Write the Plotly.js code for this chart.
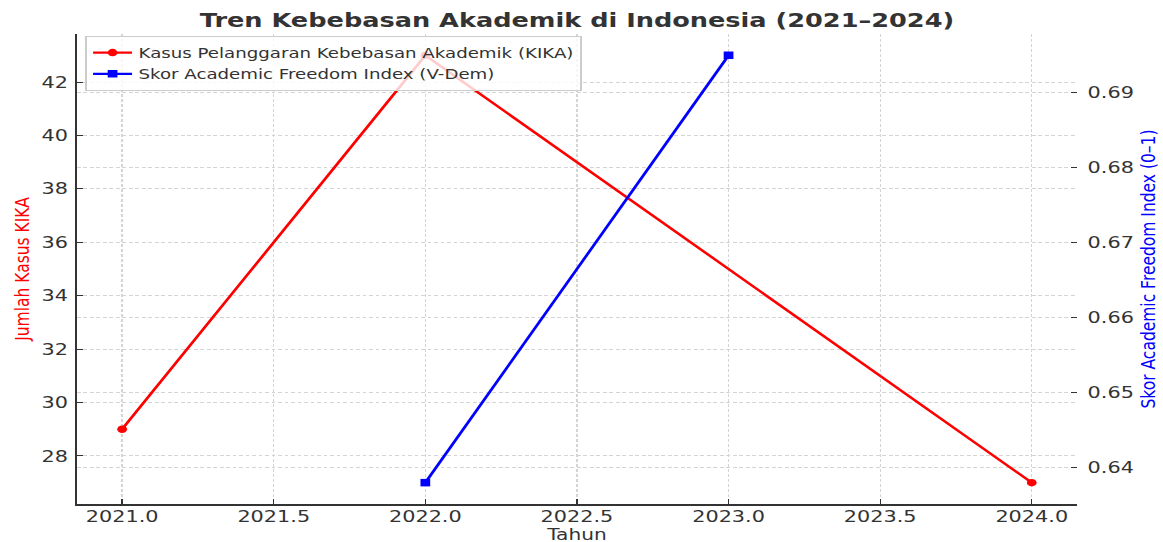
<!DOCTYPE html>
<html>
<head>
<meta charset="utf-8">
<script src="https://cdn.plot.ly/plotly-3.0.1.min.js"></script>
<style>
  html, body { margin: 0; padding: 0; background: #ffffff; overflow: hidden; }
  #wrap { width: 1163px; height: 542px; overflow: hidden; }
  #chart { width: 895px; height: 548px; transform: scaleX(1.29944); transform-origin: 0 0; }
</style>
</head>
<body>
<div id="wrap"><div id="chart"></div></div>
<script>
// Data
const yearsKIKA = [2021, 2022, 2024];
const kasusKIKA = [29, 43, 27];
const yearsAFI = [2022, 2023];
const skorAFI = [0.638, 0.695];

const nameKIKA = "Kasus Pelanggaran Kebebasan Akademik (KIKA)";
const nameAFI = "Skor Academic Freedom Index (V-Dem)";
const chartTitle = "Tren Kebebasan Akademik di Indonesia (2021–2024)";
const xTitle = "Tahun";
const yTitle = "Jumlah Kasus KIKA";
const y2Title = "Skor Academic Freedom Index (0–1)";

const FONT = "DejaVu Sans, Verdana, sans-serif";
const INK = "#333333";
const GRID = "#d4d4d4";

const traces = [
  {
    x: yearsKIKA, y: kasusKIKA, name: nameKIKA,
    type: "scatter", mode: "lines+markers",
    line: { color: "#ff0000", width: 2.3 },
    marker: { color: "#ff0000", size: 7.5, symbol: "circle" },
    yaxis: "y"
  },
  {
    x: yearsAFI, y: skorAFI, name: nameAFI,
    type: "scatter", mode: "lines+markers",
    line: { color: "#0000ff", width: 2.3 },
    marker: { color: "#0000ff", size: 7.5, symbol: "square" },
    yaxis: "y2"
  }
];

const layout = {
  width: 895, height: 548,
  margin: { l: 59, r: 66, t: 34, b: 44, pad: 0 },
  paper_bgcolor: "#ffffff", plot_bgcolor: "#ffffff",
  font: { family: FONT, color: INK, size: 16 },
  showlegend: true,
  title: {
    text: chartTitle,
    font: { family: FONT, size: 19.7, color: INK, weight: "bold" },
    xref: "paper", x: 0.5, xanchor: "center",
    yref: "container", y: 0.9637, yanchor: "middle"
  },
  xaxis: {
    range: [2020.85, 2024.15], tick0: 2021, dtick: 0.5, tickformat: ".1f",
    showline: true, linecolor: INK, linewidth: 1.5, mirror: false,
    ticks: "inside", ticklen: 5, tickwidth: 1, tickcolor: INK,
    showgrid: true, gridcolor: GRID, gridwidth: 1, griddash: "3px,2px",
    zeroline: false,
    tickfont: { family: FONT, size: 16, color: INK },
    ticklabelstandoff: -3,
    title: { text: xTitle, font: { family: FONT, size: 15.5, color: INK }, standoff: 2 },
    automargin: false
  },
  yaxis: {
    range: [26.2, 43.8], tick0: 28, dtick: 2,
    showline: true, linecolor: INK, linewidth: 1.5,
    ticks: "inside", ticklen: 5, tickwidth: 1, tickcolor: INK,
    showgrid: true, gridcolor: GRID, gridwidth: 1, griddash: "3px,2px",
    zeroline: false,
    tickfont: { family: FONT, size: 16, color: INK },
    ticklabelstandoff: 2,
    title: { text: yTitle, font: { family: FONT, size: 15.5, color: "#ff0000" }, standoff: 5 },
    automargin: false
  },
  yaxis2: {
    overlaying: "y", side: "right",
    range: [0.63515, 0.69785], tick0: 0.64, dtick: 0.01, tickformat: ".2f",
    showline: false,
    ticks: "inside", ticklen: 5, tickwidth: 1, tickcolor: INK,
    showgrid: true, gridcolor: GRID, gridwidth: 1, griddash: "3px,2px",
    zeroline: false,
    tickfont: { family: FONT, size: 16, color: INK },
    ticklabelstandoff: 7,
    title: { text: y2Title, font: { family: FONT, size: 15.5, color: "#0000ff" }, standoff: 6 },
    automargin: false
  },
  legend: {
    x: 0.0086, xanchor: "left", y: 0.9957, yanchor: "top",
    bgcolor: "rgba(255,255,255,0.8)", bordercolor: "#cccccc", borderwidth: 1,
    font: { family: FONT, size: 14, color: INK },
    tracegroupgap: 0, itemwidth: 30
  }
};

Plotly.newPlot("chart", traces, layout, { displayModeBar: false, staticPlot: true });
</script>
</body>
</html>
